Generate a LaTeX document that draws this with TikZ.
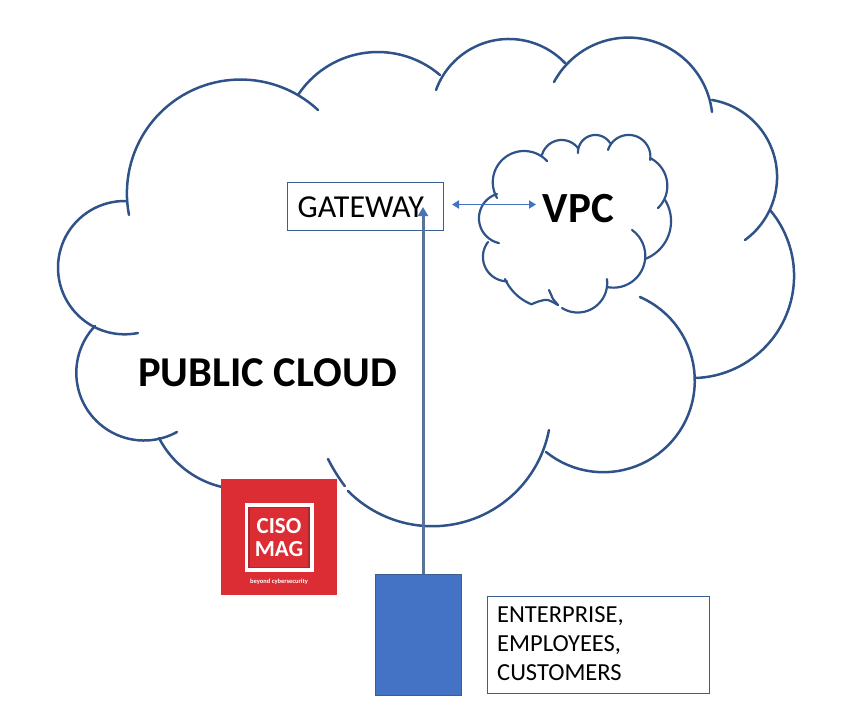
\documentclass[tikz,border=0pt]{standalone}
\usepackage{fontspec}
\usetikzlibrary{arrows.meta}
\setmainfont{Carlito}
\definecolor{cloudline}{HTML}{2F5288}
\definecolor{boxline}{HTML}{3A5F8F}
\definecolor{arrowblue}{HTML}{4472C4}
\definecolor{shaft}{HTML}{5A7399}
\definecolor{logored}{HTML}{DC2C34}
\definecolor{logodark}{HTML}{A82A30}
\tikzset{
  biglobe/.style={draw=cloudline,line width=2.5pt,line cap=round,line join=round},
  smalllobe/.style={draw=cloudline,line width=2.2pt,line cap=round,line join=round},
  labelbox/.style={draw=boxline,line width=0.8pt,fill=white,inner sep=0pt},
  lbl/.style={inner sep=0pt,text=black}
}
% circular arc through three points
\newcommand\lobearc[7]{%
  \pgfmathsetmacro\pax{#2/100}\pgfmathsetmacro\pay{#3/100}%
  \pgfmathsetmacro\pbx{#4/100}\pgfmathsetmacro\pby{#5/100}%
  \pgfmathsetmacro\pcx{#6/100}\pgfmathsetmacro\pcy{#7/100}%
  \pgfmathsetmacro\sa{\pax*\pax+\pay*\pay}%
  \pgfmathsetmacro\sb{\pbx*\pbx+\pby*\pby}%
  \pgfmathsetmacro\sc{\pcx*\pcx+\pcy*\pcy}%
  \pgfmathsetmacro\dd{2*(\pax*(\pby-\pcy)+\pbx*(\pcy-\pay)+\pcx*(\pay-\pby))}%
  \pgfmathsetmacro\ux{(\sa*(\pby-\pcy)+\sb*(\pcy-\pay)+\sc*(\pay-\pby))/\dd}%
  \pgfmathsetmacro\uy{(\sa*(\pcx-\pbx)+\sb*(\pax-\pcx)+\sc*(\pbx-\pax))/\dd}%
  \pgfmathsetmacro\rr{sqrt((\pax-\ux)*(\pax-\ux)+(\pay-\uy)*(\pay-\uy))}%
  \pgfmathsetmacro\aone{atan2(\pay-\uy,\pax-\ux)}%
  \pgfmathsetmacro\atwo{Mod(atan2(\pby-\uy,\pbx-\ux)-\aone,360)}%
  \pgfmathsetmacro\athree{Mod(atan2(\pcy-\uy,\pcx-\ux)-\aone,360)}%
  \pgfmathsetmacro\aend{\aone+(\atwo<\athree ? \athree : \athree-360)}%
  \draw[#1] plot[domain=\aone:\aend,samples=50] ({100*(\ux+\rr*cos(\x))},{100*(\uy+\rr*sin(\x))});%
}
\begin{document}
\begin{tikzpicture}[x=1pt,y=-1pt]
\useasboundingbox (0,0) rectangle (854,712);
% big cloud
\lobearc{biglobe}{126}{201}{58}{267}{138}{333}
\lobearc{biglobe}{95}{326}{82}{400}{177}{432}
\lobearc{biglobe}{159}{438}{190}{473}{222}{487}
\lobearc{biglobe}{328}{459}{336}{473}{345}{486}
\lobearc{biglobe}{348}{491}{440}{526}{549}{430}
\lobearc{biglobe}{546}{452}{690}{410}{640}{297}
\lobearc{biglobe}{696}{378}{785}{318}{770}{210}
\lobearc{biglobe}{745}{240}{777}{180}{712}{100}
\lobearc{biglobe}{712}{112}{667}{47}{554}{82}
\lobearc{biglobe}{436}{90}{507}{39}{565}{63}
\lobearc{biglobe}{298}{95}{377}{52}{440}{75}
\lobearc{biglobe}{318}{110}{200}{87}{129}{215}
% VPC cloud
\lobearc{smalllobe}{547}{161}{525}{151}{497}{198}
\lobearc{smalllobe}{497}{194}{479}{220}{499}{243}
\lobearc{smalllobe}{488}{242}{483}{258}{507}{281}
\lobearc{smalllobe}{505}{279}{517}{295}{532}{304}
\draw[smalllobe] plot[smooth] coordinates {(532,304) (540,301) (548,300) (558,305)};
\draw[smalllobe] (549,290) -- (553,299) -- (558,305);
\lobearc{smalllobe}{562}{308}{595}{307}{607}{279}
\lobearc{smalllobe}{607}{287}{645}{260}{632}{230}
\lobearc{smalllobe}{645}{259}{671}{220}{665}{200}
\lobearc{smalllobe}{650}{158}{667}{190}{658}{208}
\lobearc{smalllobe}{608}{150}{628}{135}{650}{160}
\lobearc{smalllobe}{578}{153}{595}{135}{610}{143}
\lobearc{smalllobe}{542}{155}{563}{140}{578}{148}
% logo
\node[fill=logored,minimum width=116pt,minimum height=116pt,inner sep=0pt] (logo) at (279,537) {};
\node[draw=white,line width=4pt,fill=logored,minimum width=65pt,minimum height=65pt,inner sep=0pt] (logoframe) at (279,537.5) {};
\node[draw=logodark,line width=1.5pt,minimum width=60pt,minimum height=60pt,inner sep=0pt] (logoinner) at (279,537.5) {};
\node[lbl,text=white,font=\bfseries\fontsize{23}{23}\selectfont] (ciso) at (279,526) {CISO};
\node[lbl,text=white,font=\bfseries\fontsize{23}{23}\selectfont] (mag) at (279,549) {MAG};
\node[lbl,text=white,font=\bfseries\fontsize{6.5}{7}\selectfont] (tag) at (279,582) {beyond cybersecurity};
% boxes
\node[labelbox,minimum width=156pt,minimum height=48pt] (gateway) at (365,206.5) {};
\node[lbl,anchor=west,font=\fontsize{32}{32}\selectfont] (gatewaytext) at (297.5,207) {GATEWAY};
\node[fill=arrowblue,draw=boxline,line width=.5pt,minimum width=86pt,minimum height=121pt,inner sep=0pt] (users) at (418,634.5) {};
\node[labelbox,minimum width=222pt,minimum height=97pt] (who) at (598,645) {};
\node[lbl,anchor=north west,align=left,font=\fontsize{24.5}{29}\selectfont] (whotext) at (497,606) {ENTERPRISE,\\EMPLOYEES,\\CUSTOMERS};
\node[lbl,font=\bfseries\fontsize{42.5}{43}\selectfont] (public) at (267.5,372.5) {PUBLIC CLOUD};
\node[lbl,font=\bfseries\fontsize{43}{43}\selectfont] (vpc) at (578.5,209) {VPC};
% connectors
\coordinate (gwtip) at (423,207);
\coordinate (vpctip) at (536,204.5);
\coordinate (gwside) at (452,204.5);
\draw[draw=shaft,line width=3pt,-{Triangle[length=9pt,width=10pt,color=arrowblue!70!shaft]}] (gwtip |- users.north) -- (gwtip);
\draw[draw=arrowblue,line width=1.8pt,{Triangle[length=7pt,width=8pt]}-{Triangle[length=7pt,width=8pt]}] (gwside) -- (vpctip);
\end{tikzpicture}
\end{document}
